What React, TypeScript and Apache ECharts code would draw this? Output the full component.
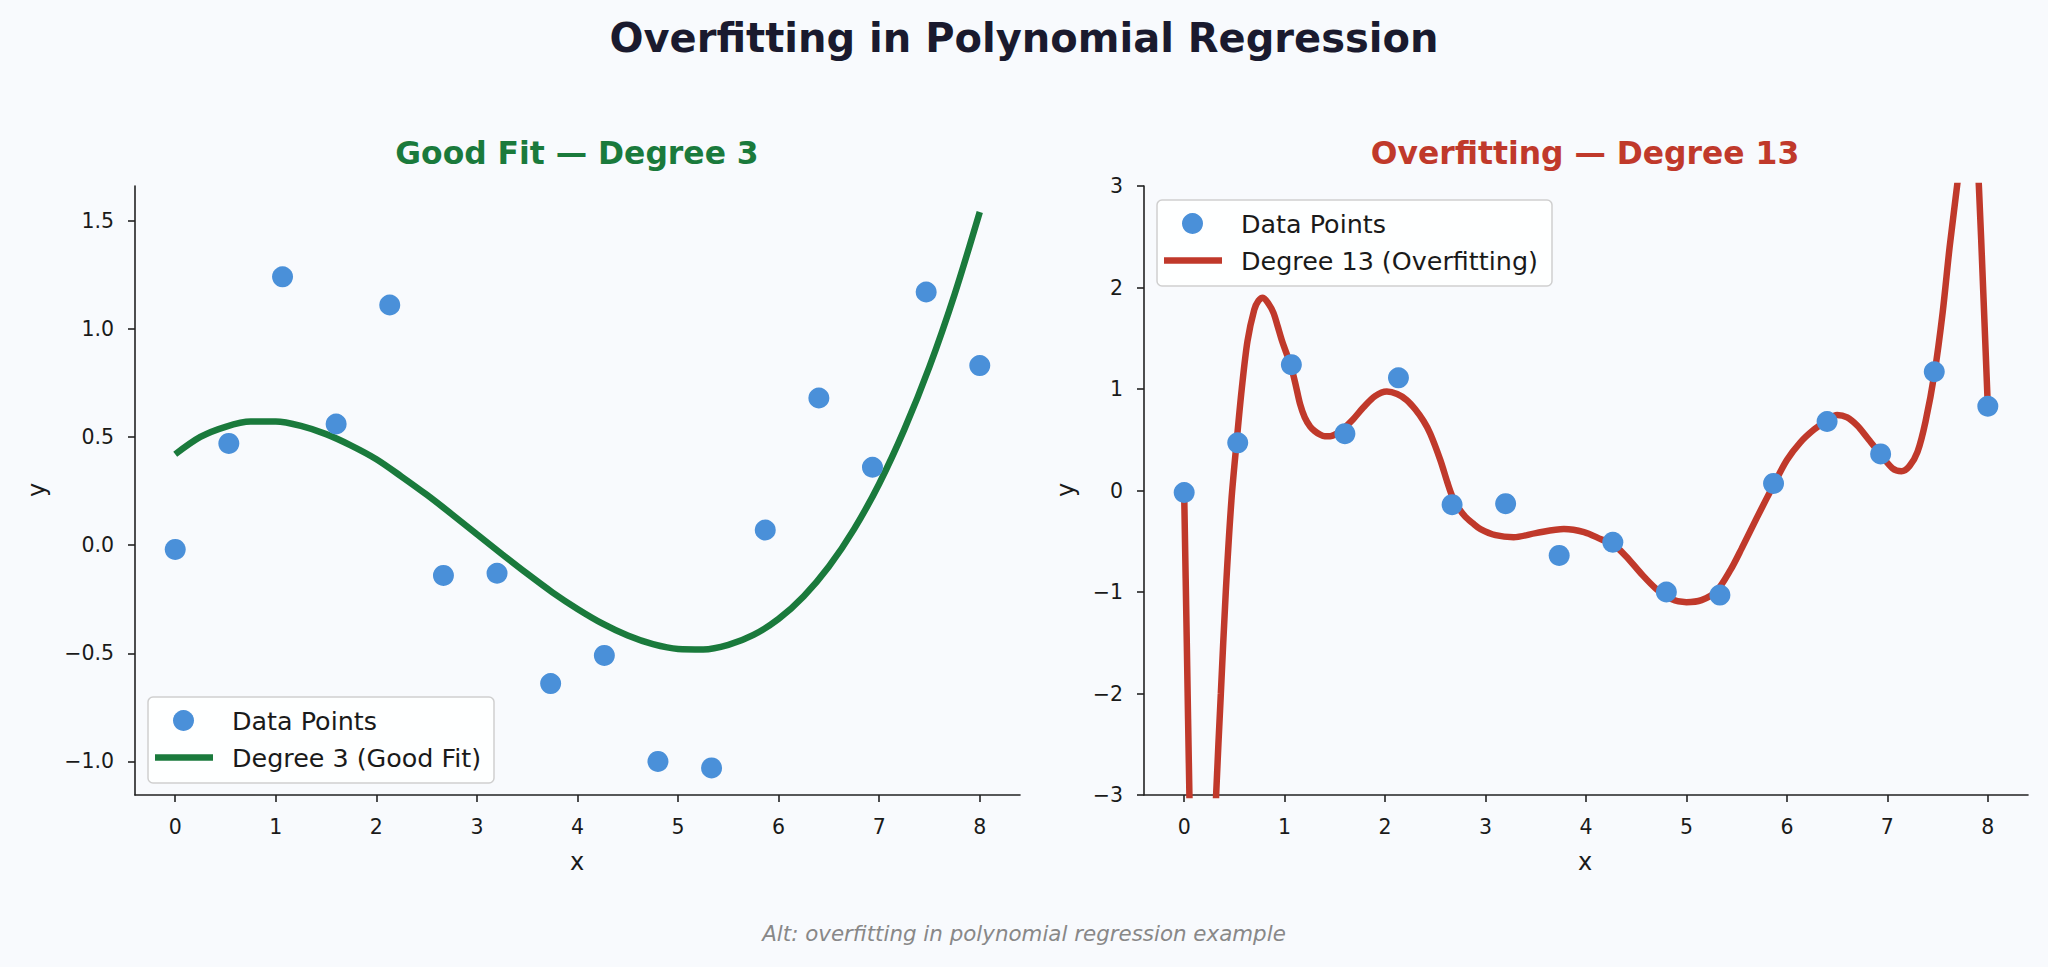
import React, { useEffect, useRef } from "react";
import * as echarts from "echarts";

// Observations (shared by both panels)
const X_POINTS = [0, 0.533, 1.067, 1.6, 2.133, 2.667, 3.2, 3.733, 4.267, 4.8, 5.333, 5.867, 6.4, 6.933, 7.467, 8];
const Y_POINTS = [-0.02, 0.47, 1.24, 0.56, 1.11, -0.14, -0.13, -0.64, -0.51, -1.0, -1.03, 0.07, 0.68, 0.36, 1.17, 0.83];

// Degree-3 fitted curve samples
const DEG3_X = [
  0, 0.25, 0.5, 0.75, 1, 1.25, 1.5, 1.75, 2, 2.25, 2.5, 2.75, 3, 3.25, 3.5, 3.75, 4,
  4.25, 4.5, 4.75, 5, 5.25, 5.5, 5.75, 6, 6.25, 6.5, 6.75, 7, 7.25, 7.5, 7.75, 8,
];
const DEG3_Y = [
  0.42, 0.5, 0.547, 0.571, 0.571, 0.551, 0.513, 0.46, 0.397, 0.317, 0.233, 0.143, 0.05, -0.042, -0.132, -0.218, -0.295,
  -0.363, -0.418, -0.458, -0.48, -0.482, -0.461, -0.415, -0.341, -0.236, -0.099, 0.074, 0.284, 0.535, 0.825, 1.16, 1.54,
];

// Degree-13 fitted curve samples (values outside ±3 are clipped by the axis)
const DEG13_X = [
  0, 0.026, 0.052, 0.09, 0.15, 0.21, 0.26, 0.318, 0.365, 0.414, 0.47, 0.524, 0.573, 0.63, 0.697, 0.74,
  0.784, 0.84, 0.889, 0.93, 0.972, 1.015, 1.062, 1.11, 1.154, 1.2, 1.254, 1.3, 1.354, 1.4, 1.453, 1.52,
  1.586, 1.68, 1.785, 1.9, 2.017, 2.12, 2.217, 2.3, 2.383, 2.45, 2.55, 2.62, 2.67, 2.73, 2.8, 2.87,
  2.95, 3.1, 3.28, 3.5, 3.78, 3.98, 4.15, 4.27, 4.4, 4.55, 4.7, 4.85, 5.0, 5.15, 5.3, 5.44, 5.55,
  5.7, 5.87, 6.0, 6.13, 6.27, 6.4, 6.5, 6.6, 6.7, 6.8, 6.93, 7.05, 7.14, 7.22, 7.3, 7.38, 7.47, 7.55,
  7.62, 7.7, 7.76, 7.83, 7.88, 7.911, 7.955, 8.0,
];
const DEG13_Y = [
  -0.03, -1.5, -3.0, -4.8, -5.8, -5.6, -4.6, -3.0, -2.0, -1.0, -0.1, 0.5, 1.0, 1.47, 1.78, 1.87,
  1.9, 1.84, 1.75, 1.62, 1.48, 1.36, 1.23, 1.04, 0.85, 0.72, 0.63, 0.585, 0.55, 0.535, 0.535, 0.56,
  0.61, 0.7, 0.82, 0.93, 0.975, 0.95, 0.89, 0.8, 0.685, 0.56, 0.3, 0.08, -0.06, -0.17, -0.26, -0.32,
  -0.38, -0.44, -0.46, -0.42, -0.38, -0.41, -0.48, -0.53, -0.65, -0.82, -0.97, -1.07, -1.1, -1.08, -0.99, -0.78, -0.57,
  -0.27, 0.06, 0.3, 0.47, 0.6, 0.69, 0.745, 0.72, 0.64, 0.52, 0.36, 0.22, 0.19, 0.24, 0.38, 0.68, 1.16, 1.75,
  2.4, 3.05, 3.6, 3.8, 3.5, 3.0, 1.95, 0.83,
];

// Tick labels
const X_TICKS = [0, 1, 2, 3, 4, 5, 6, 7, 8];
const LEFT_Y_TICKS = [-1.0, -0.5, 0.0, 0.5, 1.0, 1.5];

const FONT = '"DejaVu Sans", "Liberation Sans", sans-serif';
const POINT_COLOR = "#4a90d9";
const GOOD_COLOR = "#1a7a3c";
const OVER_COLOR = "#c0392b";
const AXIS_COLOR = "#222222";
const TEXT_COLOR = "#1a1a1a";

const pairs = (xs: number[], ys: number[]) => xs.map((x, i) => [x, ys[i]]);
const fmt = (v: number, d: number) => {
  const s = Math.abs(v).toFixed(d);
  return v < 0 ? "\u2212" + s : s;
};

const baseAxis = (gridIndex: number) => ({
  gridIndex,
  type: "value",
  splitLine: { show: false },
  axisLine: { show: true, onZero: false, lineStyle: { color: AXIS_COLOR, width: 1.6 } },
  axisTick: { show: true, inside: false, length: 7, lineStyle: { color: AXIS_COLOR, width: 1.6 } },
});

const labelStyle = { color: TEXT_COLOR, fontSize: 20.5, fontFamily: FONT, margin: 21 };

const legend = (
  left: number,
  top: number,
  width: number,
  lineColor: string,
  lineLabel: string
) => ({
  type: "group",
  silent: true,
  children: [
    {
      type: "rect",
      shape: { x: left, y: top, width, height: 86, r: 5 },
      style: { fill: "rgba(255,255,255,0.85)", stroke: "#cfcfcf", lineWidth: 1.5 },
    },
    {
      type: "circle",
      shape: { cx: left + 35.5, cy: top + 23.5, r: 10.5 },
      style: { fill: POINT_COLOR },
    },
    {
      type: "line",
      shape: { x1: left + 7, y1: top + 60.5, x2: left + 65, y2: top + 60.5 },
      style: { stroke: lineColor, lineWidth: 6.5 },
    },
    {
      type: "text",
      x: left + 84,
      y: top + 23.5,
      style: {
        text: "Data Points",
        fill: TEXT_COLOR,
        font: `25.4px ${FONT}`,
        textAlign: "left",
        textVerticalAlign: "middle",
      },
    },
    {
      type: "text",
      x: left + 84,
      y: top + 60.5,
      style: {
        text: lineLabel,
        fill: TEXT_COLOR,
        font: `25.4px ${FONT}`,
        textAlign: "left",
        textVerticalAlign: "middle",
      },
    },
  ],
});

const centeredText = (
  x: number,
  y: number,
  text: string,
  font: string,
  fill: string,
  rotation = 0
) => ({
  type: "text",
  x,
  y,
  rotation,
  silent: true,
  style: { text, font, fill, textAlign: "center", textVerticalAlign: "middle" },
});

export default function App() {
  const ref = useRef<HTMLDivElement>(null);

  useEffect(() => {
    if (!ref.current) return;
    const chart = echarts.init(ref.current, undefined, { renderer: "svg" });

    const option = {
      animation: false,
      backgroundColor: "#f8fafd",
      grid: [
        { left: 135, top: 186, width: 885, height: 609 },
        { left: 1144, top: 186, width: 884, height: 609 },
      ],
      xAxis: [0, 1].map((g) => ({
        ...baseAxis(g),
        min: -0.4,
        max: 8.4,
        axisTick: { ...baseAxis(g).axisTick, customValues: X_TICKS },
        axisLabel: { ...labelStyle, customValues: X_TICKS, formatter: (v: number) => String(v) },
      })),
      yAxis: [
        {
          ...baseAxis(0),
          min: -1.155,
          max: 1.66,
          axisTick: { ...baseAxis(0).axisTick, customValues: LEFT_Y_TICKS },
          axisLabel: { ...labelStyle, customValues: LEFT_Y_TICKS, formatter: (v: number) => fmt(v, 1) },
        },
        {
          ...baseAxis(1),
          min: -3,
          max: 3,
          interval: 1,
          axisLabel: { ...labelStyle, formatter: (v: number) => fmt(v, 0) },
        },
      ],
      series: [
        {
          name: "Degree 3 (Good Fit)",
          type: "line",
          xAxisIndex: 0,
          yAxisIndex: 0,
          data: pairs(DEG3_X, DEG3_Y),
          smooth: 0.3,
          showSymbol: false,
          lineStyle: { color: GOOD_COLOR, width: 6.5 },
          z: 2,
        },
        {
          name: "Data Points",
          type: "scatter",
          xAxisIndex: 0,
          yAxisIndex: 0,
          data: pairs(X_POINTS, Y_POINTS),
          symbolSize: 21,
          itemStyle: { color: POINT_COLOR, opacity: 1 },
          z: 3,
        },
        {
          name: "Degree 13 (Overfitting)",
          type: "line",
          xAxisIndex: 1,
          yAxisIndex: 1,
          data: pairs(DEG13_X, DEG13_Y),
          smooth: 0.3,
          clip: true,
          showSymbol: false,
          lineStyle: { color: OVER_COLOR, width: 6.5 },
          z: 2,
        },
        {
          name: "Data Points",
          type: "scatter",
          xAxisIndex: 1,
          yAxisIndex: 1,
          data: pairs(X_POINTS, Y_POINTS),
          symbolSize: 21,
          itemStyle: { color: POINT_COLOR, opacity: 1 },
          z: 3,
        },
      ],
      graphic: [
        centeredText(1024, 38, "Overfitting in Polynomial Regression", `bold 40px ${FONT}`, "#1a1a2e"),
        centeredText(577, 153, "Good Fit \u2014 Degree 3", `bold 31.4px ${FONT}`, GOOD_COLOR),
        centeredText(1585, 153, "Overfitting \u2014 Degree 13", `bold 31.4px ${FONT}`, OVER_COLOR),
        centeredText(577, 862, "x", `24px ${FONT}`, TEXT_COLOR),
        centeredText(1585, 862, "x", `24px ${FONT}`, TEXT_COLOR),
        centeredText(37, 490, "y", `24px ${FONT}`, TEXT_COLOR, Math.PI / 2),
        centeredText(1066, 490, "y", `24px ${FONT}`, TEXT_COLOR, Math.PI / 2),
        centeredText(
          1024,
          933,
          "Alt: overfitting in polynomial regression example",
          `italic 21.4px ${FONT}`,
          "#888888"
        ),
        legend(148, 697, 346, GOOD_COLOR, "Degree 3 (Good Fit)"),
        legend(1157, 200, 395, OVER_COLOR, "Degree 13 (Overfitting)"),
      ],
    };

    chart.setOption(option as any);
    return () => chart.dispose();
  }, []);

  return (
    <div
      ref={ref}
      style={{ position: "absolute", left: 0, top: 0, width: 2048, height: 967 }}
    />
  );
}
